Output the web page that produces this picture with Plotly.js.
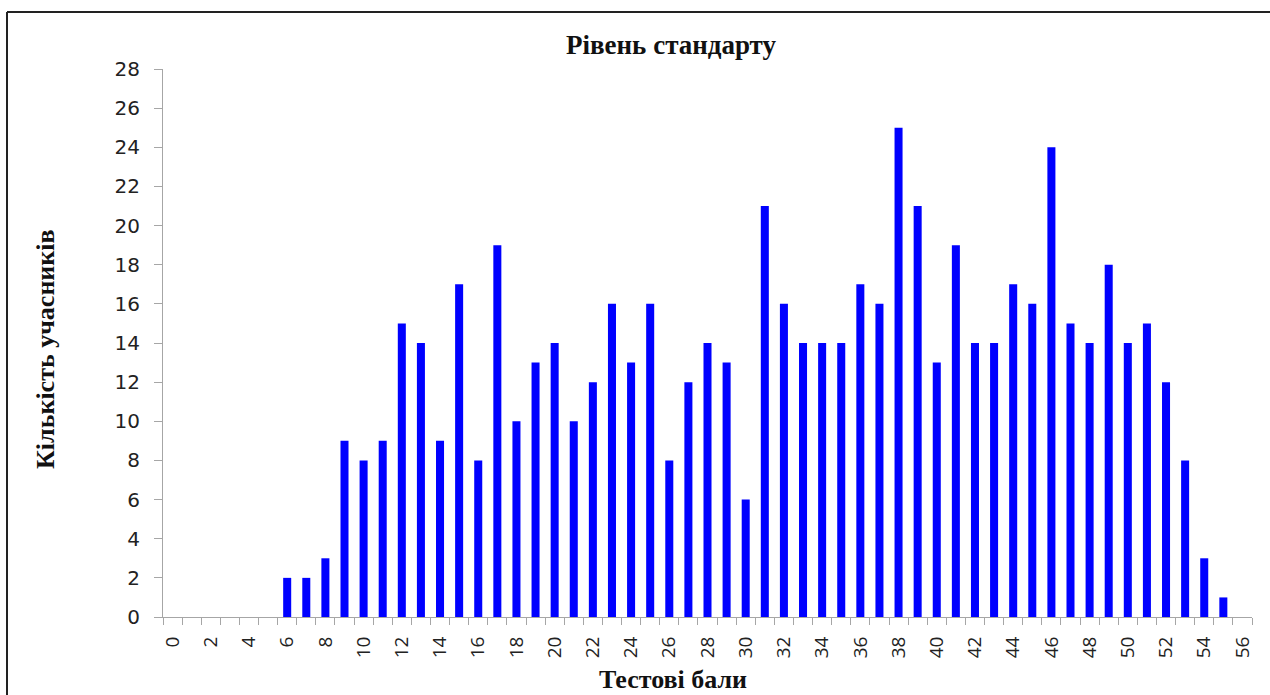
<!DOCTYPE html>
<html>
<head>
<meta charset="utf-8">
<script src="https://cdn.plot.ly/plotly-3.0.1.min.js"></script>
<style>html,body{margin:0;padding:0;background:#fff;}#chart{width:1270px;height:695px;}</style>
</head>
<body>
<div id="chart"></div>
<script>
var scores = [0,1,2,3,4,5,6,7,8,9,10,11,12,13,14,15,16,17,18,19,20,21,22,23,24,25,26,27,28,29,30,31,32,33,34,35,36,37,38,39,40,41,42,43,44,45,46,47,48,49,50,51,52,53,54,55,56];
var counts = [0,0,0,0,0,0,2,2,3,9,8,9,15,14,9,17,8,19,10,13,14,10,12,16,13,16,8,12,14,13,6,21,16,14,14,14,17,16,25,21,13,19,14,14,17,16,24,15,14,18,14,15,12,8,3,1,0];
var xTickLabels = [0,2,4,6,8,10,12,14,16,18,20,22,24,26,28,30,32,34,36,38,40,42,44,46,48,50,52,54,56];
var yTickLabels = [0,2,4,6,8,10,12,14,16,18,20,22,24,26,28];
var chartTitle = 'Рівень стандарту';
var xTitle = 'Тестові бали';
var yTitle = 'Кількість учасників';

var axisGrey = '#a6a6a6';
var xTickFont = {family: 'Open Sans, DejaVu Sans, sans-serif', size: 19, color: '#222'};
var yTickFont = {family: 'DejaVu Sans, sans-serif', size: 20, color: '#222'};
var titleFontH = {family: 'Liberation Serif, Times New Roman, serif', size: 27, color: '#111', weight: 'bold'};
var titleFontX = {family: 'Liberation Serif, Times New Roman, serif', size: 26, color: '#111', weight: 'bold'};
var titleFontV = {family: 'Liberation Serif, Times New Roman, serif', size: 26, color: '#111', weight: 'bold'};

var trace = {
  type: 'bar',
  x: scores,
  y: counts,
  width: 0.42,
  marker: {color: '#0000ff'},
  hoverinfo: 'x+y'
};

var layout = {
  width: 1270, height: 695,
  margin: {l: 163, r: 18, t: 69, b: 78},
  paper_bgcolor: '#fff', plot_bgcolor: '#fff',
  showlegend: false,
  xaxis: {
    range: [-0.5, 56.5],
    tickmode: 'array', tickvals: xTickLabels, ticktext: xTickLabels.map(String),
    tickangle: -90, ticks: '', tickfont: xTickFont,
    ticklabelstandoff: 11,
    showline: true, linecolor: axisGrey, linewidth: 1,
    showgrid: false, zeroline: false,
    minor: {ticks: 'outside', tickmode: 'linear', tick0: -0.5, dtick: 1, ticklen: 7, tickcolor: axisGrey, tickwidth: 1, showgrid: false}
  },
  yaxis: {
    range: [0, 28],
    tickmode: 'array', tickvals: yTickLabels, ticktext: yTickLabels.map(String),
    ticks: 'outside', ticklen: 8, tickcolor: axisGrey, tickwidth: 1, tickfont: yTickFont,
    ticklabelstandoff: 10,
    showline: true, linecolor: axisGrey, linewidth: 1,
    showgrid: false, zeroline: false
  },
  annotations: [
    {text: chartTitle, xref: 'paper', yref: 'paper', x: (671-163)/1089, y: (617-45)/548, xanchor: 'center', yanchor: 'middle', showarrow: false, font: titleFontH},
    {text: xTitle, xref: 'paper', yref: 'paper', x: (673-163)/1089, y: (617-679)/548, xanchor: 'center', yanchor: 'middle', showarrow: false, font: titleFontX},
    {text: yTitle, xref: 'paper', yref: 'paper', x: (45-163)/1089, y: (617-349)/548, xanchor: 'center', yanchor: 'middle', textangle: -90, showarrow: false, font: titleFontV}
  ],
  shapes: [
    {type: 'line', xref: 'paper', yref: 'paper', x0: (7-163)/1089, x1: 1.2, y0: (617-12)/548, y1: (617-12)/548, line: {color: '#222', width: 2}},
    {type: 'line', xref: 'paper', yref: 'paper', x0: (7-163)/1089, x1: (7-163)/1089, y0: (617-12)/548, y1: -0.3, line: {color: '#222', width: 2}}
  ]
};

Plotly.newPlot('chart', [trace], layout, {displayModeBar: false, staticPlot: true});
</script>
</body>
</html>
